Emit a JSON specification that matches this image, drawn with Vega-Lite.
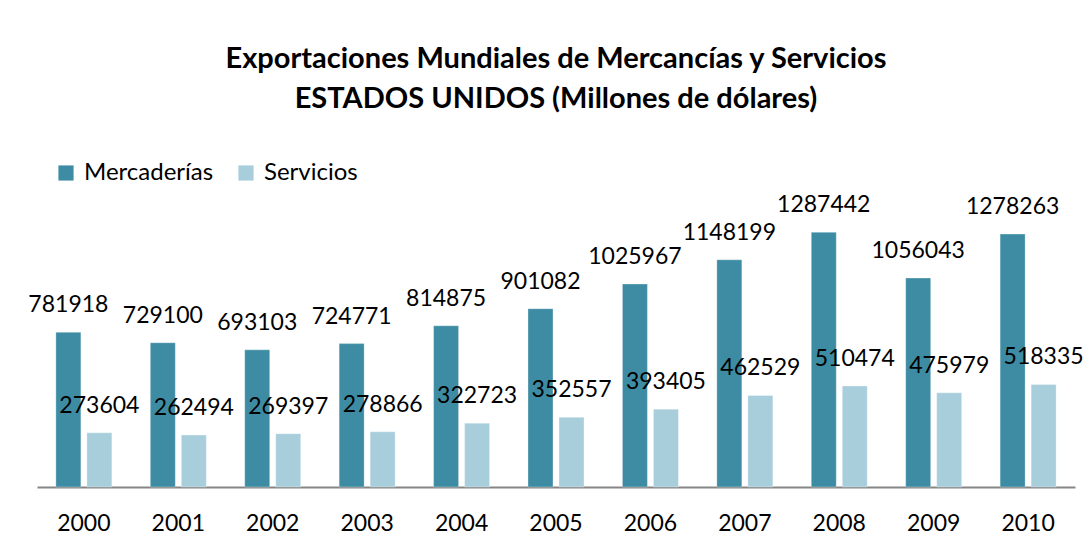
{
  "$schema": "https://vega.github.io/schema/vega-lite/v6.json",
  "width": 1038,
  "height": 277,
  "autosize": {"type": "none"},
  "padding": {"left": 37, "top": 210, "right": 16, "bottom": 62},
  "background": "white",
  "title": {
    "text": ["Exportaciones Mundiales de Mercancías y Servicios", "ESTADOS UNIDOS (Millones de dólares)"],
    "font": "Lato",
    "fontSize": 29,
    "fontWeight": "bold",
    "color": "#000000",
    "anchor": "middle",
    "lineHeight": 40,
    "offset": 47
  },
  "data": {
    "values": [
      {"anio": "2000", "tipo": "Mercaderías", "valor": 781918},
      {"anio": "2000", "tipo": "Servicios", "valor": 273604},
      {"anio": "2001", "tipo": "Mercaderías", "valor": 729100},
      {"anio": "2001", "tipo": "Servicios", "valor": 262494},
      {"anio": "2002", "tipo": "Mercaderías", "valor": 693103},
      {"anio": "2002", "tipo": "Servicios", "valor": 269397},
      {"anio": "2003", "tipo": "Mercaderías", "valor": 724771},
      {"anio": "2003", "tipo": "Servicios", "valor": 278866},
      {"anio": "2004", "tipo": "Mercaderías", "valor": 814875},
      {"anio": "2004", "tipo": "Servicios", "valor": 322723},
      {"anio": "2005", "tipo": "Mercaderías", "valor": 901082},
      {"anio": "2005", "tipo": "Servicios", "valor": 352557},
      {"anio": "2006", "tipo": "Mercaderías", "valor": 1025967},
      {"anio": "2006", "tipo": "Servicios", "valor": 393405},
      {"anio": "2007", "tipo": "Mercaderías", "valor": 1148199},
      {"anio": "2007", "tipo": "Servicios", "valor": 462529},
      {"anio": "2008", "tipo": "Mercaderías", "valor": 1287442},
      {"anio": "2008", "tipo": "Servicios", "valor": 510474},
      {"anio": "2009", "tipo": "Mercaderías", "valor": 1056043},
      {"anio": "2009", "tipo": "Servicios", "valor": 475979},
      {"anio": "2010", "tipo": "Mercaderías", "valor": 1278263},
      {"anio": "2010", "tipo": "Servicios", "valor": 518335}
    ]
  },
  "encoding": {
    "x": {
      "field": "anio",
      "type": "nominal",
      "scale": {"paddingInner": 0.407, "paddingOuter": 0.2},
      "axis": {
        "title": null,
        "labelAngle": 0,
        "labelFont": "Lato",
        "labelFontSize": 23,
        "labelColor": "#000000",
        "labelPadding": 25,
        "ticks": false,
        "domainColor": "#868686",
        "domainWidth": 2,
        "grid": false
      }
    },
    "xOffset": {"field": "tipo", "type": "nominal", "scale": {"paddingInner": 0.194, "paddingOuter": 0}},
    "y": {
      "field": "valor",
      "type": "quantitative",
      "scale": {"domain": [0, 1400000], "nice": false},
      "axis": null
    }
  },
  "layer": [
    {
      "mark": {"type": "bar", "stroke": "#ffffff", "strokeWidth": 0.5, "strokeOpacity": 0.6},
      "encoding": {
        "color": {
          "field": "tipo",
          "type": "nominal",
          "scale": {"domain": ["Mercaderías", "Servicios"], "range": ["#3E8CA4", "#A8CEDC"]},
          "legend": {
            "title": null,
            "orient": "none",
            "direction": "horizontal",
            "legendX": 17,
            "legendY": -49,
            "symbolType": "square",
            "symbolSize": 230,
            "symbolStrokeWidth": 0,
            "labelFont": "Lato",
            "labelFontSize": 24,
            "labelColor": "#000000",
            "labelOffset": 6,
            "columnPadding": 20
          }
        }
      }
    },
    {
      "mark": {"type": "text", "baseline": "middle", "align": "center", "dy": -27, "font": "Lato", "fontSize": 23, "color": "#000000"},
      "encoding": {
        "text": {"field": "valor", "type": "quantitative", "format": "d"}
      }
    }
  ],
  "config": {"view": {"stroke": null}}
}
